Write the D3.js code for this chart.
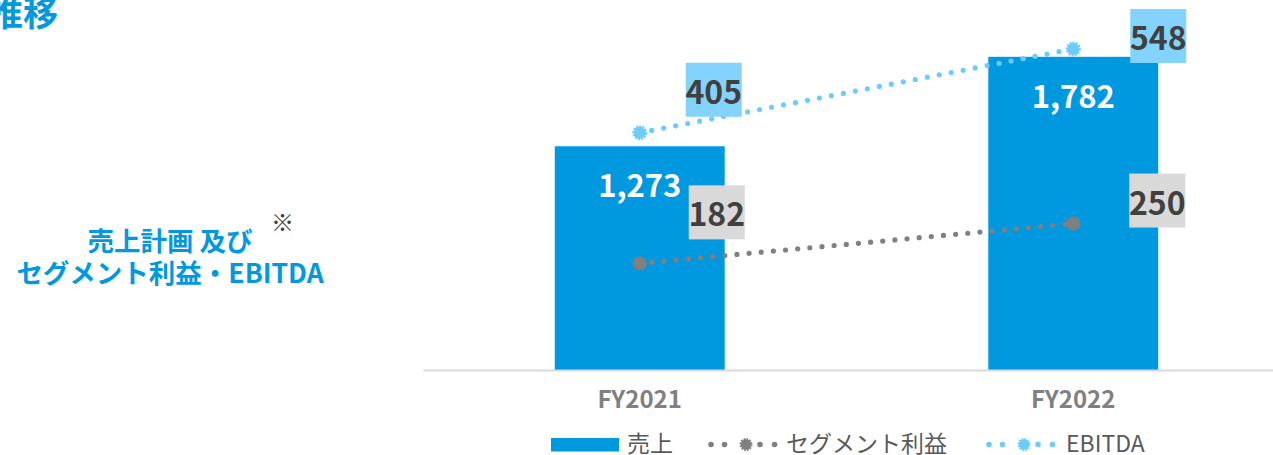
<!DOCTYPE html>
<html lang="ja">
<head>
<meta charset="utf-8">
<script src="https://cdn.jsdelivr.net/npm/d3@7"></script>
<style>
  html, body { margin: 0; padding: 0; background: #fff; }
  svg { display: block; font-family: "Noto Sans CJK JP", "Noto Sans", sans-serif; }
</style>
</head>
<body>
<svg id="chart" width="1273" height="455"></svg>
<script>
// Fiscal years and series values
const years = ["FY2021", "FY2022"];
const sales = [1273, 1782];          // 売上 (bars, left axis)
const segmentProfit = [182, 250];    // セグメント利益 (line, right axis)
const ebitda = [405, 548];           // EBITDA (line, right axis)
const legendNames = ["売上", "セグメント利益", "EBITDA"];
const salesMax = 2000;
const lineMax = 600;

// Colours
const BLUE = "#0098DF";
const LIGHT = "#6CCBFF";
const LIGHT_BOX = "#84D3FF";
const GREY = "#808080";
const GREY_BOX = "#D9D9D9";
const DARK = "#404040";

// Hand-placed label offsets (box centre relative to the marker)
const segNudge = [[77, -51], [84, -23]];
const ebitdaNudge = [[74, -43], [85, -13]];

const svg = d3.select("#chart");
const FONT = "'Noto Sans CJK JP', 'Noto Sans', sans-serif";

// Scales
const baseY = 370, topY = 18.5;
const x = d3.scaleBand().domain(years).range([423, 1290]).padding(0);
const ySales = d3.scaleLinear().domain([0, salesMax]).range([baseY, topY]);
const yLine = d3.scaleLinear().domain([0, lineMax]).range([baseY, topY]);
const barW = x.bandwidth() * 0.392;
const cx = d => x(d) + x.bandwidth() / 2;

// Heading fragment on the left
svg.append("text")
  .attr("x", 58).attr("y", 26)
  .attr("text-anchor", "end")
  .attr("font-size", 35).attr("font-weight", 700)
  .attr("fill", BLUE)
  .text("の推移");

const side = svg.append("g").attr("font-weight", 700).attr("fill", BLUE)
  .attr("font-size", 26.5).attr("text-anchor", "middle");
side.append("text").attr("x", 170).attr("y", 239).attr("dominant-baseline", "central")
  .text("売上計画 及び");
side.append("text").attr("x", 170).attr("y", 271).attr("dominant-baseline", "central")
  .text("セグメント利益・EBITDA");
svg.append("text").attr("x", 282.5).attr("y", 221)
  .attr("text-anchor", "middle").attr("dominant-baseline", "central")
  .attr("font-size", 23).attr("fill", DARK)
  .text("※");

// Bars
svg.append("g").selectAll("rect")
  .data(years.map((y, i) => ({ y, v: sales[i] })))
  .join("rect")
  .attr("x", d => cx(d.y) - barW / 2)
  .attr("width", barW)
  .attr("y", d => ySales(d.v))
  .attr("height", d => baseY - ySales(d.v))
  .attr("fill", BLUE);

// Category axis
const axis = svg.append("g")
  .attr("transform", `translate(0,${baseY})`)
  .call(d3.axisBottom(x).tickSize(0).tickPadding(21));
axis.select(".domain").attr("stroke", "#D9D9D9").attr("stroke-width", 2);
axis.selectAll(".tick text")
  .attr("font-family", FONT)
  .attr("font-size", 24).attr("font-weight", 700)
  .attr("fill", GREY);

// Bar value labels
svg.append("g").selectAll("text")
  .data(years.map((y, i) => ({ y, v: sales[i] })))
  .join("text")
  .attr("x", d => cx(d.y))
  .attr("y", d => ySales(d.v) + 37.5)
  .attr("text-anchor", "middle").attr("dominant-baseline", "central")
  .attr("font-size", 31).attr("font-weight", 700)
  .attr("fill", "#fff")
  .text(d => d3.format(",")(d.v));

// Dotted lines with markers
function drawSeries(values, color, boxColor, nudges) {
  const pts = years.map((y, i) => ({ y, v: values[i], n: nudges[i] }));
  const g = svg.append("g");
  g.append("path")
    .datum(pts)
    .attr("d", d3.line().x(d => cx(d.y)).y(d => yLine(d.v)))
    .attr("fill", "none")
    .attr("stroke", color)
    .attr("stroke-width", 5.2)
    .attr("stroke-linecap", "round")
    .attr("stroke-dasharray", "0 12.2");
  g.selectAll("circle")
    .data(pts)
    .join("circle")
    .attr("cx", d => cx(d.y))
    .attr("cy", d => yLine(d.v))
    .attr("r", 6)
    .attr("fill", color)
    .attr("stroke", color)
    .attr("stroke-width", 3)
    .attr("stroke-dasharray", "1.8 1.2");
  const lab = g.selectAll("g.lab")
    .data(pts)
    .join("g")
    .attr("class", "lab")
    .attr("transform", d => `translate(${cx(d.y) + d.n[0]},${yLine(d.v) + d.n[1]})`);
  lab.append("rect")
    .attr("x", -28).attr("y", -27).attr("width", 56).attr("height", 54)
    .attr("fill", boxColor);
  lab.append("text")
    .attr("text-anchor", "middle").attr("dominant-baseline", "central")
    .attr("font-size", 32).attr("font-weight", 700)
    .attr("fill", DARK)
    .text(d => d.v);
}
drawSeries(segmentProfit, GREY, GREY_BOX, segNudge);
drawSeries(ebitda, LIGHT, LIGHT_BOX, ebitdaNudge);

// Legend
const legY = 444.5;
const leg = svg.append("g").attr("font-size", 23).attr("fill", "#595959");
leg.append("rect").attr("x", 551).attr("y", legY - 6.5).attr("width", 68).attr("height", 13.5).attr("fill", BLUE);
leg.append("text").attr("x", 627).attr("y", 442).attr("dominant-baseline", "central").text(legendNames[0]);

function legendLine(mx, color, label, textX) {
  const dots = [-35, -21.5, 14, 28.5];
  leg.selectAll(null).data(dots).join("circle")
    .attr("cx", d => mx + d).attr("cy", legY).attr("r", 2.8).attr("fill", color);
  leg.append("circle")
    .attr("cx", mx).attr("cy", legY).attr("r", 5.2)
    .attr("fill", color).attr("stroke", color)
    .attr("stroke-width", 2.6).attr("stroke-dasharray", "1.6 1.1");
  leg.append("text").attr("x", textX).attr("y", 442)
    .attr("dominant-baseline", "central").text(label);
}
legendLine(746, GREY, legendNames[1], 786);
legendLine(1024, LIGHT, legendNames[2], 1066);
</script>
</body>
</html>
